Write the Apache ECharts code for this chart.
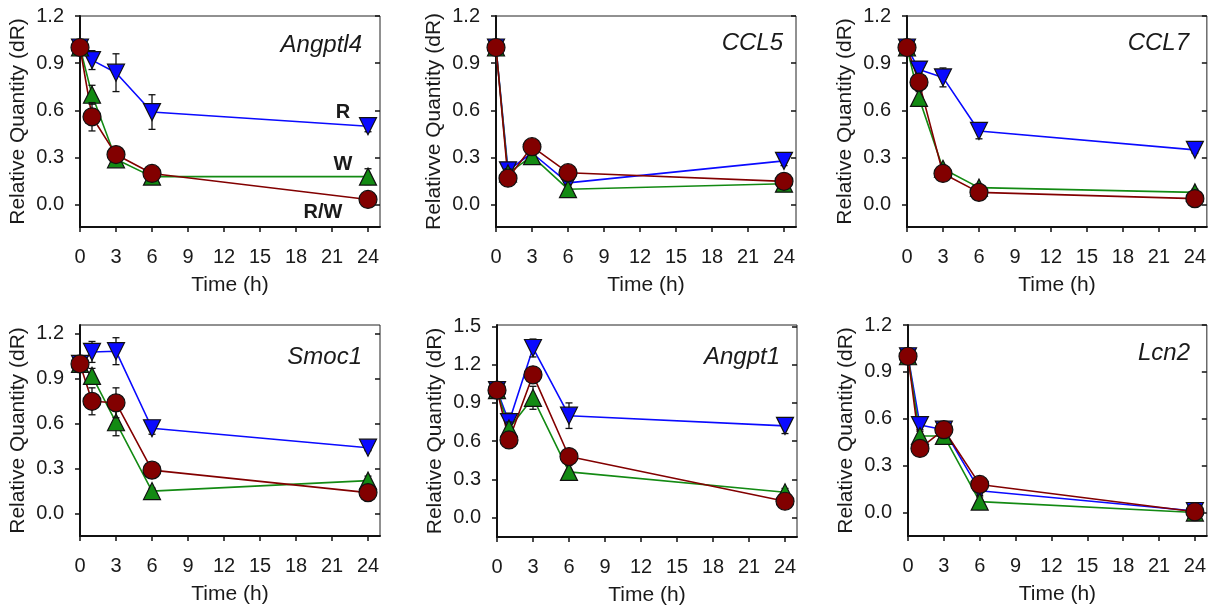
<!DOCTYPE html>
<html><head><meta charset="utf-8">
<script src="https://cdn.jsdelivr.net/npm/echarts@6/dist/echarts.min.js"></script>
<style>html,body{margin:0;padding:0;background:#fff}#c{width:1209px;height:608px}</style>
</head><body><div id="c"></div>
<script>
// ---------- DATA ----------
const times = [0, 1, 3, 6, 24];
const xTicks = [0, 3, 6, 9, 12, 15, 18, 21, 24];
const yTicks = [0, 0.3, 0.6, 0.9, 1.2];
const yTicksAngpt1 = [0, 0.3, 0.6, 0.9, 1.2, 1.5];
const geneNames = ['Angptl4', 'CCL5', 'CCL7', 'Smoc1', 'Angpt1', 'Lcn2'];
const yAxisNames = ['Relative Quantity (dR)', 'Relativve Quantity (dR)', 'Relative Quantity (dR)',
                    'Relative Quantity (dR)', 'Relative Quantity (dR)', 'Relative Quantity (dR)'];
const xAxisName = 'Time (h)';
const groupNames = ['R', 'W', 'R/W'];

// Angptl4
const angptl4_R   = [1.00, 0.92, 0.84, 0.59, 0.50];
const angptl4_Rerr = [0.02, 0.06, 0.12, 0.11, 0.035];
const angptl4_W   = [1.00, 0.70, 0.29, 0.18, 0.18];
const angptl4_Werr = [0.02, 0.06, 0.03, 0.02, 0.05];
const angptl4_RW  = [1.00, 0.56, 0.32, 0.20, 0.035];
const angptl4_RWerr = [0.02, 0.09, 0.04, 0.02, 0.02];
// CCL5
const ccl5_R   = [1.00, 0.22, 0.33, 0.14, 0.28];
const ccl5_Rerr = [0.02, 0.03, 0.03, 0.03, 0.03];
const ccl5_W   = [1.00, 0.20, 0.31, 0.10, 0.135];
const ccl5_Werr = [0.02, 0.03, 0.03, 0.03, 0.03];
const ccl5_RW  = [1.00, 0.17, 0.37, 0.205, 0.15];
const ccl5_RWerr = [0.03, 0.03, 0.04, 0.04, 0.03];
// CCL7
const ccl7_R   = [1.00, 0.86, 0.81, 0.47, 0.35];
const ccl7_Rerr = [0.02, 0.02, 0.06, 0.05, 0.02];
const ccl7_W   = [1.00, 0.68, 0.23, 0.11, 0.08];
const ccl7_Werr = [0.02, 0.04, 0.02, 0.02, 0.02];
const ccl7_RW  = [1.00, 0.78, 0.20, 0.08, 0.04];
const ccl7_RWerr = [0.02, 0.03, 0.02, 0.02, 0.02];
// Smoc1
const smoc1_R   = [1.00, 1.08, 1.085, 0.57, 0.44];
const smoc1_Rerr = [0.02, 0.07, 0.09, 0.04, 0.02];
const smoc1_W   = [1.00, 0.92, 0.61, 0.15, 0.22];
const smoc1_Werr = [0.02, 0.05, 0.09, 0.02, 0.03];
const smoc1_RW  = [1.00, 0.75, 0.74, 0.29, 0.14];
const smoc1_RWerr = [0.02, 0.09, 0.10, 0.02, 0.02];
// Angpt1
const angpt1_R   = [1.00, 0.75, 1.33, 0.80, 0.72];
const angpt1_Rerr = [0.02, 0.07, 0.07, 0.10, 0.06];
const angpt1_W   = [1.00, 0.70, 0.94, 0.36, 0.20];
const angpt1_Werr = [0.02, 0.05, 0.09, 0.05, 0.03];
const angpt1_RW  = [1.00, 0.61, 1.12, 0.48, 0.13];
const angpt1_RWerr = [0.02, 0.04, 0.06, 0.03, 0.03];
// Lcn2
const lcn2_R   = [1.00, 0.56, 0.53, 0.14, 0.01];
const lcn2_Rerr = [0.02, 0.03, 0.03, 0.03, 0.02];
const lcn2_W   = [1.00, 0.49, 0.49, 0.07, 0.00];
const lcn2_Werr = [0.02, 0.03, 0.03, 0.03, 0.02];
const lcn2_RW  = [1.00, 0.41, 0.53, 0.18, 0.005];
const lcn2_RWerr = [0.02, 0.03, 0.03, 0.03, 0.02];

const panelData = [
  [angptl4_R, angptl4_Rerr, angptl4_W, angptl4_Werr, angptl4_RW, angptl4_RWerr],
  [ccl5_R, ccl5_Rerr, ccl5_W, ccl5_Werr, ccl5_RW, ccl5_RWerr],
  [ccl7_R, ccl7_Rerr, ccl7_W, ccl7_Werr, ccl7_RW, ccl7_RWerr],
  [smoc1_R, smoc1_Rerr, smoc1_W, smoc1_Werr, smoc1_RW, smoc1_RWerr],
  [angpt1_R, angpt1_Rerr, angpt1_W, angpt1_Werr, angpt1_RW, angpt1_RWerr],
  [lcn2_R, lcn2_Rerr, lcn2_W, lcn2_Werr, lcn2_RW, lcn2_RWerr]
];

// ---------- LAYOUT / STYLE ----------
const FONT = '"Liberation Sans", Arial, sans-serif';
const TXT = '#1a1a1a';
const FS = 20;
const NFS = 21;
const panels = [
  {left: 80,  top: 16,  width: 300, height: 211, ymin: -0.14, ymax: 1.2,  ticks: yTicks},
  {left: 496, top: 16,  width: 300, height: 211, ymin: -0.14, ymax: 1.2,  ticks: yTicks},
  {left: 907, top: 16,  width: 300, height: 211, ymin: -0.14, ymax: 1.2,  ticks: yTicks},
  {left: 80,  top: 325, width: 300, height: 211, ymin: -0.15, ymax: 1.26, ticks: yTicks},
  {left: 497, top: 325, width: 300, height: 212, ymin: -0.15, ymax: 1.51, ticks: yTicksAngpt1},
  {left: 908, top: 325, width: 299, height: 211, ymin: -0.15, ymax: 1.2,  ticks: yTicks}
];
const titlePos = [[362, 45], [783, 43], [1189, 43], [362, 357], [780, 357], [1190, 353]];
const colors = ['#0a0aff', '#138a13', '#820000'];
const symbols = ['triangle', 'triangle', 'circle'];
const rotates = [180, 0, 0];
const symSizes = [17, 17, 18];

const grid = [], xAxis = [], yAxis = [], series = [], graphic = [];
panels.forEach((p, gi) => {
  grid.push({left: p.left, top: p.top, width: p.width, height: p.height,
             show: true, borderColor: '#222', borderWidth: 1, backgroundColor: 'transparent'});
  xAxis.push({
    type: 'value', gridIndex: gi, min: 0, max: 25, position: 'bottom',
    name: xAxisName, nameLocation: 'middle', nameGap: 48,
    nameTextStyle: {fontSize: NFS, color: TXT, fontFamily: FONT},
    axisLine: {show: true, onZero: false, lineStyle: {color: '#111', width: 2}},
    axisTick: {show: true, customValues: xTicks, length: 5, inside: false, lineStyle: {color: '#111', width: 1.5}},
    axisLabel: {customValues: xTicks, fontSize: FS, color: TXT, fontFamily: FONT, margin: 20},
    splitLine: {show: false}
  });
  yAxis.push({
    type: 'value', gridIndex: gi, min: p.ymin, max: p.ymax, position: 'left',
    name: yAxisNames[gi], nameLocation: 'middle', nameGap: 51, nameRotate: 90,
    nameTextStyle: {fontSize: NFS, color: TXT, fontFamily: FONT},
    axisLine: {show: true, onZero: false, lineStyle: {color: '#111', width: 2}},
    axisTick: {show: true, customValues: p.ticks, length: 5, inside: false, lineStyle: {color: '#111', width: 1.5}},
    axisLabel: {customValues: p.ticks, fontSize: FS, color: TXT, fontFamily: FONT, margin: 16,
                formatter: v => v.toFixed(1)},
    splitLine: {show: false}
  });
  yAxis.push({
    type: 'value', gridIndex: gi, min: p.ymin, max: p.ymax, position: 'right',
    axisLine: {show: false, onZero: false},
    axisTick: {show: true, customValues: p.ticks, length: 5, inside: true, lineStyle: {color: '#111', width: 1.5}},
    axisLabel: {show: false},
    splitLine: {show: false}
  });
  const d = panelData[gi];
  for (let s = 0; s < 3; s++) {
    const vals = d[s * 2], errs = d[s * 2 + 1];
    const pts = times.map((t, i) => [t, vals[i]]);
    series.push({
      type: 'line', name: groupNames[s], xAxisIndex: gi, yAxisIndex: gi * 2,
      data: pts, showSymbol: false, silent: true, z: 2,
      lineStyle: {color: colors[s], width: 1.6}
    });
    series.push({
      type: 'custom', xAxisIndex: gi, yAxisIndex: gi * 2, silent: true, z: 3 + s * 2,
      data: times.map((t, i) => [t, vals[i] - errs[i], vals[i] + errs[i]]),
      encode: {x: 0, y: [1, 2]},
      renderItem: (params, api) => {
        const x = api.value(0);
        const lo = api.coord([x, api.value(1)]);
        const hi = api.coord([x, api.value(2)]);
        const w = 3.5;
        const st = {stroke: '#111', lineWidth: 1.3};
        return {type: 'group', children: [
          {type: 'line', shape: {x1: lo[0], y1: lo[1], x2: hi[0], y2: hi[1]}, style: st},
          {type: 'line', shape: {x1: lo[0] - w, y1: lo[1], x2: lo[0] + w, y2: lo[1]}, style: st},
          {type: 'line', shape: {x1: hi[0] - w, y1: hi[1], x2: hi[0] + w, y2: hi[1]}, style: st}
        ]};
      }
    });
    series.push({
      type: 'scatter', name: groupNames[s], xAxisIndex: gi, yAxisIndex: gi * 2,
      data: pts, symbol: symbols[s], symbolRotate: rotates[s], symbolSize: symSizes[s],
      silent: true, z: 4 + s * 2,
      itemStyle: {color: colors[s], borderColor: '#111', borderWidth: 1.2, opacity: 1}
    });
  }
  graphic.push({
    type: 'text', x: titlePos[gi][0], y: titlePos[gi][1], z: 100,
    style: {text: geneNames[gi], fontSize: 24, fontStyle: 'italic', fontFamily: FONT, fill: TXT,
            align: 'right', verticalAlign: 'middle'}
  });
});
// group labels in first panel
const groupLabelPos = [[343, 112], [343, 164], [323, 212]];
groupNames.forEach((n, i) => {
  graphic.push({
    type: 'text', x: groupLabelPos[i][0], y: groupLabelPos[i][1], z: 100,
    style: {text: n, fontSize: 20, fontWeight: 'bold', fontFamily: FONT, fill: TXT,
            align: 'center', verticalAlign: 'middle'}
  });
});

const chart = echarts.init(document.getElementById('c'), null, {renderer: 'canvas'});
chart.setOption({animation: false, backgroundColor: '#fff', grid, xAxis, yAxis, series, graphic});
</script></body></html>
